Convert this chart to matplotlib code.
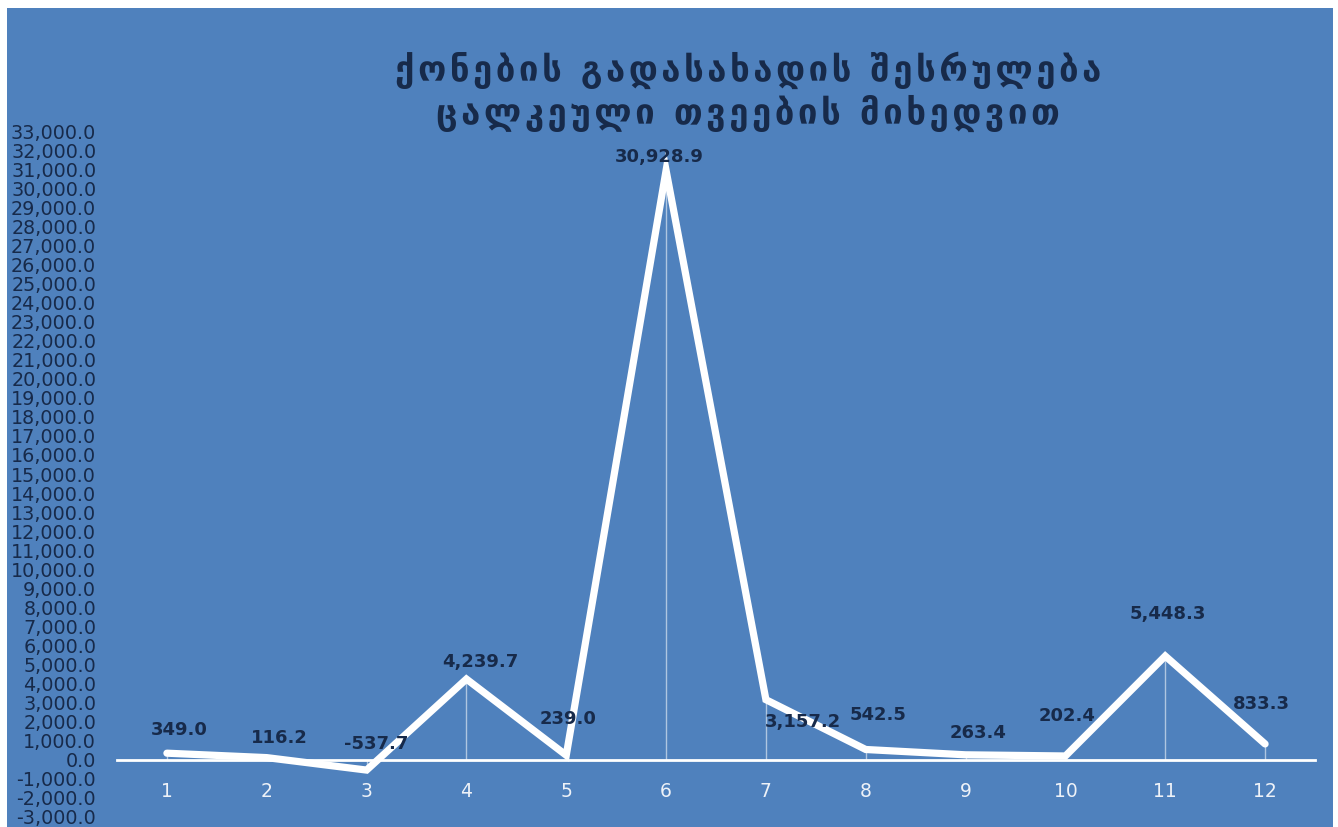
import matplotlib.pyplot as plt
from matplotlib.patches import Rectangle
from matplotlib.ticker import FuncFormatter, MultipleLocator

# თვეები და შესრულება
months = ["1", "2", "3", "4", "5", "6", "7", "8", "9", "10", "11", "12"]
values = [349.0, 116.2, -537.7, 4239.7, 239.0, 30928.9,
          3157.2, 542.5, 263.4, 202.4, 5448.3, 833.3]

title_lines = ["ქონების გადასახადის შესრულება", "ცალკეული თვეების მიხედვით"]

# label offsets in points (dx, dy) relative to each point
label_offsets = [(9, 17), (9, 14), (7, 19), (10, 12), (1, 26), (-5, 10),
                 (27, -16), (9, 25), (9, 16), (1, 29), (2, 30), (-3, 29)]

bg = "#4f81bd"
dark = "#172a4a"

plt.rcParams["font.family"] = ["DejaVu Sans"]

fig = plt.figure(figsize=(13.38, 8.27), dpi=100)
fig.patch.set_facecolor("white")
fig.add_artist(Rectangle((7 / 1338, 0), 1326 / 1338, 819 / 827,
                         transform=fig.transFigure, facecolor=bg,
                         edgecolor="none", zorder=0))

ax = fig.add_axes([117 / 1338, 10 / 827, 1198 / 1338, 686 / 827])
ax.set_facecolor("none")
x = list(range(len(months)))

ax.vlines(x, 0, values, colors="white", linewidth=1, alpha=0.55, zorder=2)
ax.plot(x, values, color="white", linewidth=5.2, solid_capstyle="round",
        solid_joinstyle="miter", zorder=3)

for i, v in enumerate(values):
    dx, dy = label_offsets[i]
    ax.annotate(f"{v:,.1f}", (x[i], v), xytext=(dx, dy),
                textcoords="offset points", ha="center", va="center",
                fontsize=13, fontweight="bold", color=dark, zorder=4)

ax.set_xlim(-0.5, len(months) - 0.5)
ax.set_ylim(-3000, 33000)
ax.yaxis.set_major_locator(MultipleLocator(1000))
ax.yaxis.set_major_formatter(FuncFormatter(lambda v, p: f"{v:,.1f}"))
ax.set_xticks(x)
ax.set_xticklabels(months)

# category axis sits on the zero line
for s in ["top", "right", "left"]:
    ax.spines[s].set_visible(False)
ax.spines["bottom"].set_position(("data", 0))
ax.spines["bottom"].set_color("white")
ax.spines["bottom"].set_linewidth(2)
ax.spines["bottom"].set_zorder(2)

ax.tick_params(axis="y", length=0, pad=15, labelsize=13.8, labelcolor=dark)
ax.tick_params(axis="x", length=0, pad=16, labelsize=13.5, labelcolor="#eef2f8")

hair = "\u200a"
for k, line in enumerate(title_lines):
    spaced = hair.join(line)
    fig.text(0.559, 1 - (70 + 43 * k) / 827, spaced, ha="center", va="center",
             fontsize=25, fontweight="bold", color=dark)

fig.savefig("out.png", dpi=100, facecolor="white")
